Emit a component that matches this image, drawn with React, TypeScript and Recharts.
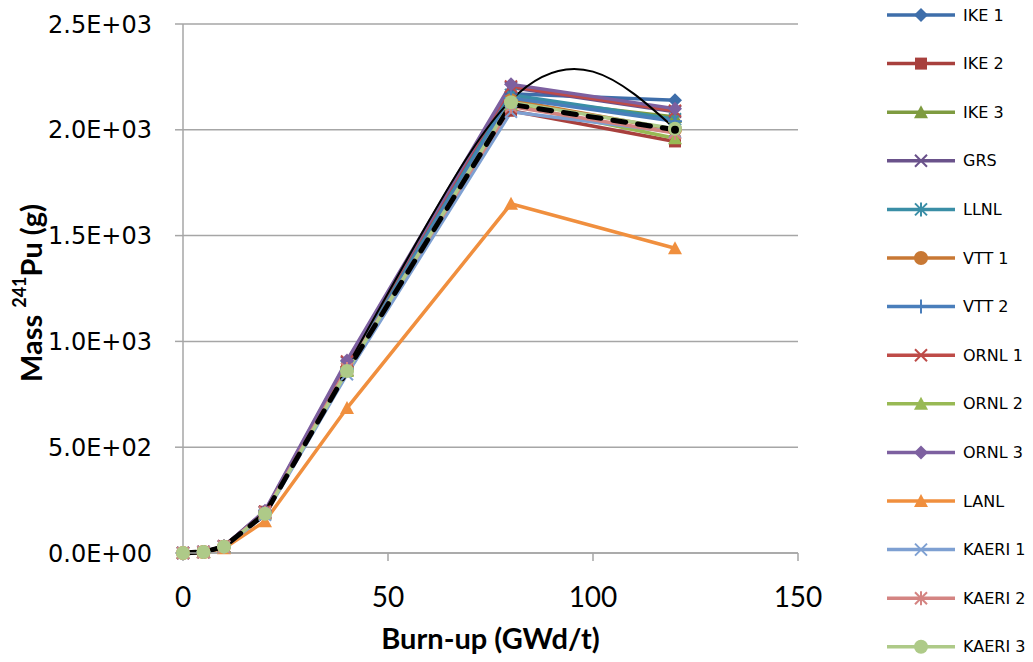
import { LineChart, Line, XAxis, YAxis, CartesianGrid, Label } from "recharts";

// burn-up steps (GWd/t)
const BURNUP = [0, 5, 10, 20, 40, 80, 120];

// mass of Pu-241 (g) per participant
const IKE_1 = [0, 5, 30, 190, 880, 2170, 2140];
const IKE_2 = [0, 5, 30, 195, 875, 2090, 1945];
const IKE_3 = [0, 5, 30, 190, 865, 2150, 2060];
const GRS = [0, 5, 32, 195, 900, 2200, 2085];
const LLNL = [0, 5, 30, 190, 880, 2165, 2050];
const VTT_1 = [0, 5, 30, 190, 870, 2140, 2000];
const VTT_2 = [0, 5, 30, 190, 870, 2150, 2040];
const ORNL_1 = [0, 5, 32, 195, 905, 2205, 2090];
const ORNL_2 = [0, 5, 30, 185, 860, 2120, 1960];
const ORNL_3 = [0, 5, 32, 200, 910, 2215, 2100];
const LANL = [0, 4, 22, 150, 685, 1650, 1440];
const KAERI_1 = [0, 5, 28, 180, 845, 2085, 1990];
const KAERI_2 = [0, 5, 30, 190, 870, 2110, 1985];
const KAERI_3 = [0, 5, 30, 185, 860, 2130, 2005];
const MEAN = [0, 5, 30, 185, 860, 2120, 2000];

// thin black curve
const CURVE_X = [40, 60, 80, 100, 120];
const CURVE_Y = [880, 1570, 2140, 2275, 2005];

const X_TICKS = [0, 50, 100, 150];
const Y_TICKS = [0, 500, 1000, 1500, 2000, 2500];

type MarkerKind = "diamond" | "square" | "triangle" | "x" | "star" | "circle" | "plus";

const SERIES: { name: string; values: number[]; color: string; marker: MarkerKind }[] = [
  { name: "IKE 1", values: IKE_1, color: "#3E6EAA", marker: "diamond" },
  { name: "IKE 2", values: IKE_2, color: "#A8403D", marker: "square" },
  { name: "IKE 3", values: IKE_3, color: "#7E9B40", marker: "triangle" },
  { name: "GRS", values: GRS, color: "#6A528B", marker: "x" },
  { name: "LLNL", values: LLNL, color: "#3A8EA6", marker: "star" },
  { name: "VTT 1", values: VTT_1, color: "#C87834", marker: "circle" },
  { name: "VTT 2", values: VTT_2, color: "#4A7EBB", marker: "plus" },
  { name: "ORNL 1", values: ORNL_1, color: "#BE4B48", marker: "x" },
  { name: "ORNL 2", values: ORNL_2, color: "#98B954", marker: "triangle" },
  { name: "ORNL 3", values: ORNL_3, color: "#7D60A0", marker: "diamond" },
  { name: "LANL", values: LANL, color: "#F08F3E", marker: "triangle" },
  { name: "KAERI 1", values: KAERI_1, color: "#7EA0D2", marker: "x" },
  { name: "KAERI 2", values: KAERI_2, color: "#D48482", marker: "star" },
  { name: "KAERI 3", values: KAERI_3, color: "#AECA88", marker: "circle" },
];

const toPoints = (xs: number[], ys: number[]) => xs.map((x, i) => ({ x, y: ys[i] }));

function fmtExp(v: number) {
  const [m, e] = v.toExponential(1).split("e");
  const n = Number(e);
  return `${m}E${n < 0 ? "-" : "+"}${String(Math.abs(n)).padStart(2, "0")}`;
}

function Marker({ kind, cx, cy, color }: { kind: MarkerKind; cx: number; cy: number; color: string }) {
  const s = 6;
  switch (kind) {
    case "diamond":
      return <polygon points={`${cx},${cy - s - 1} ${cx + s + 1},${cy} ${cx},${cy + s + 1} ${cx - s - 1},${cy}`} fill={color} />;
    case "square":
      return <rect x={cx - s} y={cy - s} width={2 * s} height={2 * s} fill={color} />;
    case "triangle":
      return <polygon points={`${cx},${cy - s - 1} ${cx + s + 1},${cy + s} ${cx - s - 1},${cy + s}`} fill={color} />;
    case "x":
      return <path d={`M${cx - s},${cy - s}L${cx + s},${cy + s}M${cx - s},${cy + s}L${cx + s},${cy - s}`} stroke={color} strokeWidth={2} />;
    case "star":
      return (
        <path
          d={`M${cx - s},${cy - s}L${cx + s},${cy + s}M${cx - s},${cy + s}L${cx + s},${cy - s}M${cx},${cy - s - 1}L${cx},${cy + s + 1}`}
          stroke={color}
          strokeWidth={2}
        />
      );
    case "plus":
      return <path d={`M${cx},${cy - s - 1}L${cx},${cy + s + 1}M${cx - s - 1},${cy}L${cx + s + 1},${cy}`} stroke={color} strokeWidth={2} />;
    default:
      return <circle cx={cx} cy={cy} r={s + 1} fill={color} />;
  }
}

function YTitle() {
  return (
    <text
      transform="translate(30, 293) rotate(-90)"
      textAnchor="middle"
      dominantBaseline="central"
      fontFamily="Lato"
      fontWeight="bold"
      fontSize={29}
      fill="#000"
    >
      {"Mass "}
      <tspan fontSize={18} dy={-11}>
        241
      </tspan>
      <tspan dy={11}>Pu (g)</tspan>
    </text>
  );
}

function ChartLegend() {
  return (
    <svg width={163} height={662} style={{ position: "absolute", left: 870, top: 0 }}>
      {SERIES.map((s, i) => {
        const y = 15 + i * 48.6;
        return (
          <g key={s.name}>
            <line x1={17} x2={85} y1={y} y2={y} stroke={s.color} strokeWidth={3.5} />
            <Marker kind={s.marker} cx={51} cy={y} color={s.color} />
            <text x={93} y={y} dominantBaseline="central" fontFamily="DejaVu Sans" fontSize={16} fill="#000">
              {s.name}
            </text>
          </g>
        );
      })}
    </svg>
  );
}

export default function App() {
  const axisGray = "#A6A6A6";
  const lastIdx = MEAN.length - 1;
  return (
    <div style={{ position: "relative", width: 1033, height: 662, margin: -8, background: "#fff" }}>
      <LineChart width={1033} height={662} margin={{ top: 24, right: 235, bottom: 0, left: 0 }}>
        <CartesianGrid vertical={false} stroke={axisGray} strokeWidth={1.5} />
        <XAxis
          type="number"
          dataKey="x"
          domain={[0, 150]}
          ticks={X_TICKS}
          height={109}
          tickSize={8}
          tickMargin={26}
          axisLine={{ stroke: axisGray, strokeWidth: 1.5 }}
          tickLine={{ stroke: axisGray, strokeWidth: 1.5 }}
          tick={{ fontFamily: "Lato", fontSize: 28, fill: "#000" }}
          allowDuplicatedCategory={false}
        >
          <Label
            value="Burn-up (GWd/t)"
            position="insideBottom"
            offset={13}
            style={{ fontFamily: "Lato", fontWeight: "bold", fontSize: 29, fill: "#000" }}
          />
        </XAxis>
        <YAxis
          type="number"
          domain={[0, 2500]}
          ticks={Y_TICKS}
          width={183}
          tickSize={8}
          tickMargin={23}
          tickFormatter={fmtExp}
          axisLine={{ stroke: axisGray, strokeWidth: 1.5 }}
          tickLine={{ stroke: axisGray, strokeWidth: 1.5 }}
          tick={{ fontFamily: "DejaVu Sans", fontSize: 24, fill: "#000" }}
        >
          <Label content={() => <YTitle />} />
        </YAxis>
        {SERIES.map((s) => (
          <Line
            key={s.name}
            data={toPoints(BURNUP, s.values)}
            dataKey="y"
            name={s.name}
            type="linear"
            stroke={s.color}
            strokeWidth={3.5}
            isAnimationActive={false}
            dot={(p: any) => <Marker key={`${s.name}-${p.index}`} kind={s.marker} cx={p.cx} cy={p.cy} color={s.color} />}
            activeDot={false}
          />
        ))}
        <Line
          data={toPoints(BURNUP, MEAN)}
          dataKey="y"
          name="mean"
          type="linear"
          stroke="#000"
          strokeWidth={5}
          strokeDasharray="13 12"
          strokeLinecap="round"
          isAnimationActive={false}
          dot={(p: any) =>
            p.index === lastIdx ? <circle key={`m-${p.index}`} cx={p.cx} cy={p.cy} r={4} fill="#000" /> : <g key={`m-${p.index}`} />
          }
          activeDot={false}
        />
        <Line
          data={toPoints(CURVE_X, CURVE_Y)}
          dataKey="y"
          name="curve"
          type="natural"
          stroke="#000"
          strokeWidth={2}
          isAnimationActive={false}
          dot={false}
          activeDot={false}
        />
      </LineChart>
      <ChartLegend />
    </div>
  );
}
